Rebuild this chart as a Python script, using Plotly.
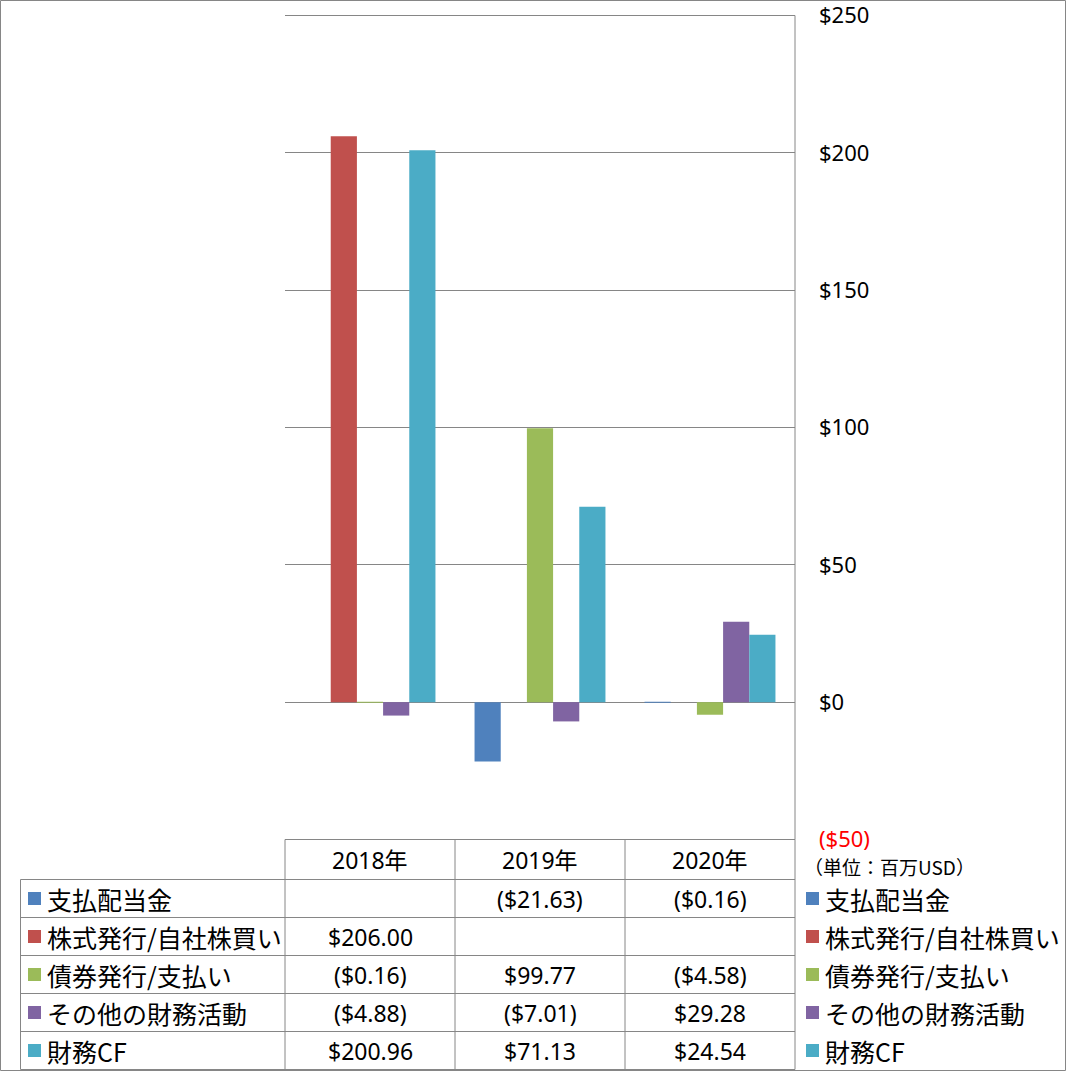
import plotly.graph_objects as go

# data (単位: 百万USD)
categories = ["2018年", "2019年", "2020年"]
series_names = ["支払配当金", "株式発行/自社株買い", "債券発行/支払い", "その他の財務活動", "財務CF"]
dividends = [None, -21.63, -0.16]
equity = [206.00, None, None]
debt = [-0.16, 99.77, -4.58]
other = [-4.88, -7.01, 29.28]
financing_cf = [200.96, 71.13, 24.54]
series_values = [dividends, equity, debt, other, financing_cf]
colors = ["#4F81BD", "#C0504D", "#9BBB59", "#8064A2", "#4BACC6"]

tick_vals = [-50, 0, 50, 100, 150, 200, 250]
tick_text = ['<span style="color:#FF0000">($50)</span>', "$0", "$50", "$100", "$150", "$200", "$250"]

W, H = 1066, 1071
GRID = "#868686"
NUM_FONT = "Noto Sans, Noto Sans CJK JP"
JP_FONT = "Noto Sans CJK JP, Noto Sans"


def px(x):
    return x / W


def py(y):
    return 1 - y / H


def fmt(v):
    if v is None:
        return ""
    if v < 0:
        return "(${:.2f})".format(-v)
    return "${:.2f}".format(v)


fig = go.Figure()
for name, vals, col in zip(series_names, series_values, colors):
    fig.add_trace(go.Bar(x=categories, y=vals, name=name, marker_color=col,
                         marker_line_width=0))

# table geometry (pixels)
col_edges = [285, 455, 625, 795]
row_lines = [879.5, 917.5, 955.5, 993.5, 1031.5, 1069.5]
header_top = 839.5
plot_top = 15.5
# y range is padded by 1 unit at the top so that the $250 grid line is drawn
y_lo, y_hi = -50, 251
k = (header_top - plot_top) / 300.0
dom_top = plot_top - (y_hi - 250) * k

shapes = []
line = dict(color=GRID, width=1)
# outer frame
shapes.append(dict(type="rect", xref="paper", yref="paper", x0=px(0.5), x1=px(1065.5),
                   y0=py(1070.5), y1=py(0.5), line=line))
# header row
shapes.append(dict(type="line", xref="paper", yref="paper", x0=px(285), x1=px(795),
                   y0=py(header_top), y1=py(header_top), line=line))
for yl in row_lines:
    shapes.append(dict(type="line", xref="paper", yref="paper", x0=px(20.5), x1=px(795),
                       y0=py(yl), y1=py(yl), line=line))
for xe in col_edges:
    shapes.append(dict(type="line", xref="paper", yref="paper", x0=px(xe), x1=px(xe),
                       y0=py(header_top), y1=py(1069.5), line=line))
shapes.append(dict(type="line", xref="paper", yref="paper", x0=px(20.5), x1=px(20.5),
                   y0=py(row_lines[0]), y1=py(1069.5), line=line))
# right axis line
shapes.append(dict(type="line", xref="paper", yref="paper", x0=px(795), x1=px(795),
                   y0=py(header_top), y1=py(plot_top), line=line))

annotations = []
# header labels
for i, cat in enumerate(categories):
    cx = (col_edges[i] + col_edges[i + 1]) / 2
    annotations.append(dict(x=px(cx), y=py(859.5), xref="paper", yref="paper", text=cat,
                            showarrow=False, xanchor="center", yanchor="middle",
                            font=dict(family=NUM_FONT, size=23, color="black")))

for r, (name, vals, col) in enumerate(zip(series_names, series_values, colors)):
    cy = (row_lines[r] + row_lines[r + 1]) / 2
    # legend keys on the left and right
    for kx in (28, 806):
        shapes.append(dict(type="rect", xref="paper", yref="paper", x0=px(kx), x1=px(kx + 13),
                           y0=py(cy + 6.5), y1=py(cy - 6.5), fillcolor=col, line_width=0))
    for tx in (45, 823):
        annotations.append(dict(x=px(tx), y=py(cy), xref="paper", yref="paper", text=name,
                                showarrow=False, xanchor="left", yanchor="middle",
                                font=dict(family=JP_FONT, size=25, color="black")))
    for i, v in enumerate(vals):
        cx = (col_edges[i] + col_edges[i + 1]) / 2
        annotations.append(dict(x=px(cx), y=py(cy), xref="paper", yref="paper", text=fmt(v),
                                showarrow=False, xanchor="center", yanchor="middle",
                                font=dict(family=NUM_FONT, size=23, color="black")))

annotations.append(dict(x=px(802), y=py(866), xref="paper", yref="paper", text="（単位：百万USD）",
                        showarrow=False, xanchor="left", yanchor="middle",
                        font=dict(family=JP_FONT, size=19, color="black")))

fig.update_layout(
    width=W, height=H, autosize=False,
    margin=dict(l=0, r=0, t=0, b=0, pad=0),
    paper_bgcolor="white", plot_bgcolor="white",
    barmode="group", bargap=0.23, bargroupgap=0,
    showlegend=False,
    xaxis=dict(domain=[px(285), px(795)], showticklabels=False, showgrid=False,
               zeroline=False, showline=False, ticks="", automargin=False),
    yaxis=dict(domain=[py(header_top), py(dom_top)], range=[y_lo, y_hi], side="right",
               tickvals=tick_vals, ticktext=tick_text, ticks="", ticklabelstandoff=23,
               ticklabeloverflow="allow", automargin=False,
               showgrid=True, gridcolor=GRID, gridwidth=1,
               zeroline=True, zerolinecolor=GRID, zerolinewidth=1,
               showline=False,
               tickfont=dict(family=NUM_FONT, size=22, color="black")),
    shapes=shapes,
    annotations=annotations,
)

post = "document.body.style.margin='0';document.body.style.overflow='hidden';"
fig.write_html("out.html", config={"displayModeBar": False}, post_script=post)
